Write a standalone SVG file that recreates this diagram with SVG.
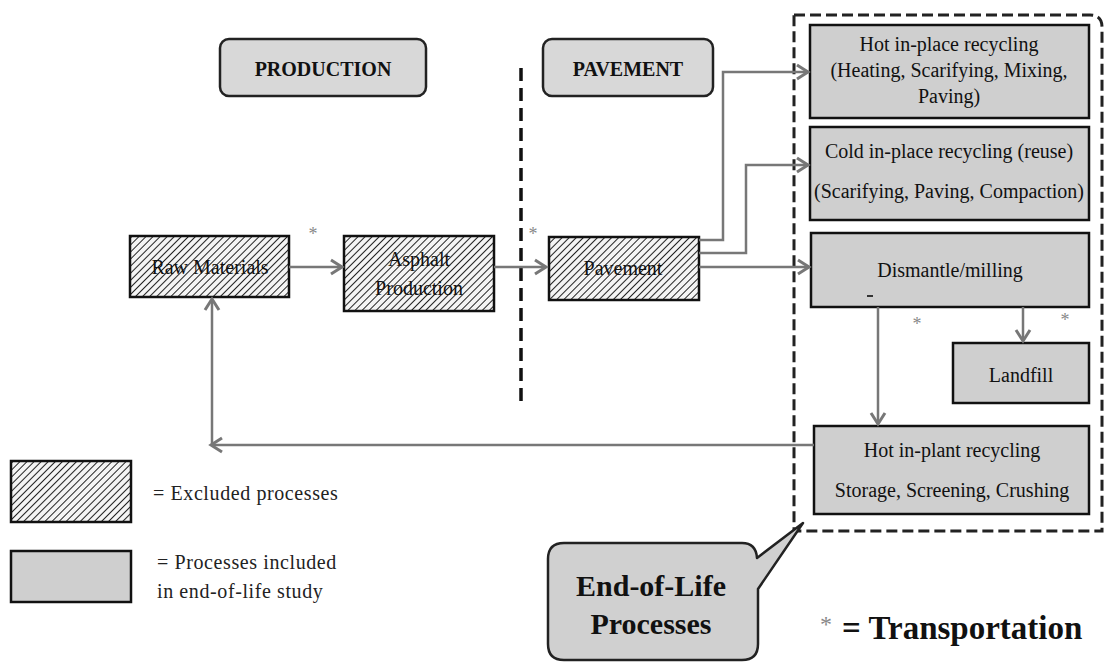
<svg xmlns="http://www.w3.org/2000/svg" width="1105" height="663" viewBox="0 0 1105 663">
<defs>
<pattern id="hatch" patternUnits="userSpaceOnUse" width="5" height="5" patternTransform="rotate(45)">
<rect width="5" height="5" fill="#f4f4f4"/>
<line x1="0" y1="0" x2="0" y2="5" stroke="#222" stroke-width="2"/>
</pattern>
<marker id="arr" markerUnits="userSpaceOnUse" markerWidth="16" markerHeight="18" refX="13" refY="9" orient="auto">
<path d="M2,2 L13,9 L2,16" fill="none" stroke="#777" stroke-width="3"/>
</marker>
<style>
.hx{fill:url(#hatch);stroke:#111;stroke-width:2.5}
.gb{fill:#cfcfcf;stroke:#111;stroke-width:2.5}
.hd{fill:#d8d8d8;stroke:#222;stroke-width:2.5}
.t{font-family:"Liberation Serif",serif;font-size:20px;fill:#111;text-anchor:middle}
.tb{font-family:"Liberation Serif",serif;font-weight:bold;fill:#111;text-anchor:middle}
.lg{font-family:"Liberation Serif",serif;font-size:20px;fill:#222;letter-spacing:0.6px}
.ast{font-family:"Liberation Serif",serif;font-size:18px;fill:#888;text-anchor:middle}
.c{fill:none;stroke:#777;stroke-width:2.5}
</style>
</defs>
<rect width="1105" height="663" fill="#ffffff"/>

<g id="production-header"><rect class="hd" x="220" y="39" width="206" height="57" rx="9"/><text class="tb" x="323" y="76" font-size="20">PRODUCTION</text></g>
<g id="pavement-header"><rect class="hd" x="543" y="39" width="170" height="57" rx="9"/><text class="tb" x="628" y="76" font-size="20">PAVEMENT</text></g>

<g id="divider"><line x1="521" y1="68" x2="521" y2="405" stroke="#111" stroke-width="3.5" stroke-dasharray="13,7"/></g>
<g id="eol-boundary"><path d="M794,15 H1090 Q1102,15 1102,27 V531 H794 Z" fill="none" stroke="#222" stroke-width="3" stroke-dasharray="11,5"/></g>

<g id="raw-materials"><rect class="hx" x="130" y="236" width="159" height="61"/><text class="t" x="210" y="274" font-size="21">Raw Materials</text></g>
<g id="asphalt-production"><rect class="hx" x="344" y="236" width="150" height="75"/><text class="t" x="419" y="266">Asphalt</text><text class="t" x="419" y="295">Production</text></g>
<g id="pavement"><rect class="hx" x="549" y="237" width="150" height="63"/><text class="t" x="623" y="275">Pavement</text></g>

<g id="hot-in-place"><rect class="gb" x="810" y="25" width="279" height="93"/><text class="t" x="949" y="51">Hot in-place recycling</text><text class="t" x="949" y="77" font-size="21">(Heating, Scarifying, Mixing,</text><text class="t" x="949" y="103">Paving)</text></g>
<g id="cold-in-place"><rect class="gb" x="810" y="127" width="279" height="93"/><text class="t" x="949" y="158">Cold in-place recycling (reuse)</text><text class="t" x="949" y="198">(Scarifying, Paving, Compaction)</text></g>
<g id="dismantle"><rect class="gb" x="811" y="233" width="278" height="74"/><text class="t" x="950" y="277">Dismantle/milling</text><rect x="867" y="295" width="6" height="2" fill="#333"/></g>
<g id="landfill"><rect class="gb" x="953" y="343" width="136" height="60"/><text class="t" x="1021" y="382">Landfill</text></g>
<g id="hot-in-plant"><rect class="gb" x="814" y="426" width="275" height="88"/><text class="t" x="952" y="457">Hot in-plant recycling</text><text class="t" x="952" y="497">Storage, Screening, Crushing</text></g>

<g id="connectors">
<path class="c" d="M289,267 H342" marker-end="url(#arr)"/>
<path class="c" d="M494,267 H546" marker-end="url(#arr)"/>
<path class="c" d="M699,240 H723 V72 H808" marker-end="url(#arr)"/>
<path class="c" d="M699,253 H746 V165 H808" marker-end="url(#arr)"/>
<path class="c" d="M699,267 H809" marker-end="url(#arr)"/>
<path class="c" d="M1023,307 V341" marker-end="url(#arr)"/>
<path class="c" d="M878,307 V424" marker-end="url(#arr)"/>
<path class="c" d="M814,445 H211" marker-end="url(#arr)"/>
<path class="c" d="M212,445 V299" marker-end="url(#arr)"/>
</g>

<g id="asterisks">
<text class="ast" x="313" y="240">*</text>
<text class="ast" x="533" y="240">*</text>
<text class="ast" x="917" y="330">*</text>
<text class="ast" x="1065" y="326">*</text>
</g>

<g id="legend">
<rect class="hx" x="11" y="461" width="120" height="61"/>
<text class="lg" x="153" y="500">= Excluded processes</text>
<rect class="gb" x="11" y="551" width="120" height="51"/>
<text class="lg" x="157" y="569">= Processes included</text>
<text class="lg" x="157" y="598">in end-of-life study</text>
</g>

<g id="eol-callout">
<path d="M564,543 H742 Q756,543 757,558 L803,523 L758,589 V644 Q758,660 742,660 H564 Q548,660 548,644 V559 Q548,543 564,543 Z" fill="#d0d0d0" stroke="#222" stroke-width="2.5" stroke-linejoin="round"/>
<text class="tb" x="651" y="596" font-size="30">End-of-Life</text>
<text class="tb" x="651" y="634" font-size="30">Processes</text>
</g>

<g id="transport-key">
<text x="826" y="632" font-family="Liberation Serif, serif" font-size="24" fill="#888" text-anchor="middle">*</text>
<text x="842" y="639" font-family="Liberation Serif, serif" font-weight="bold" font-size="33" fill="#111">= Transportation</text>
</g>
</svg>
